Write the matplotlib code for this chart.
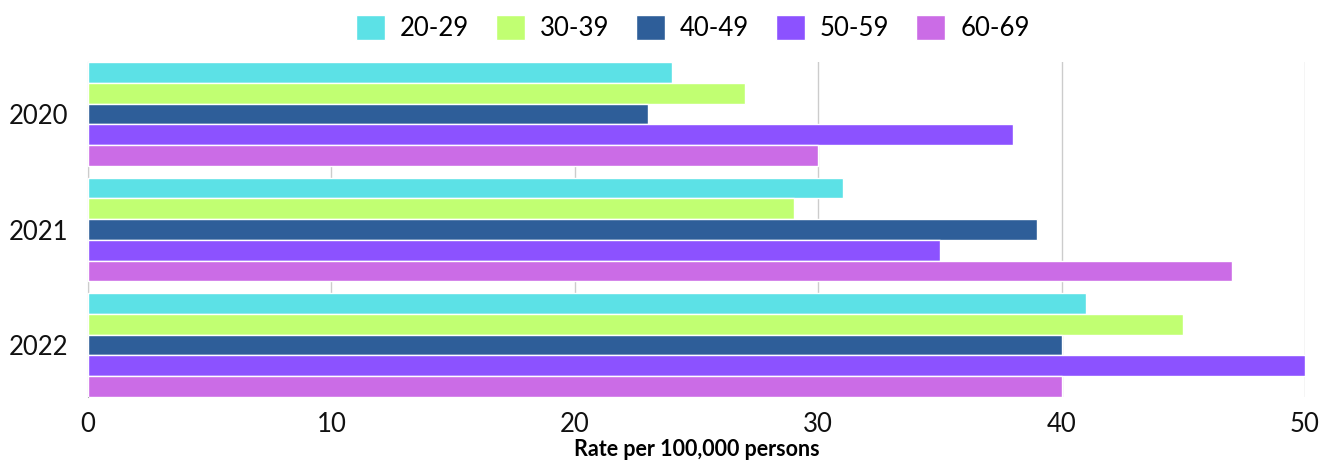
import numpy as np
import matplotlib.pyplot as plt

# data
years = ['2020', '2021', '2022']
groups = ['20-29', '30-39', '40-49', '50-59', '60-69']
rate_20_29 = [24, 31, 41]
rate_30_39 = [27, 29, 45]
rate_40_49 = [23, 39, 40]
rate_50_59 = [38, 35, 50]
rate_60_69 = [30, 47, 40]
series = [rate_20_29, rate_30_39, rate_40_49, rate_50_59, rate_60_69]
colors = ['#5CE1E6', '#C1FF72', '#2E5E99', '#8C52FF', '#CB6CE6']

plt.rcParams['font.family'] = ['Lato', 'DejaVu Sans']

fig = plt.figure(figsize=(13.23, 4.62), dpi=100)
ax = fig.add_axes([88 / 1323, 1 - 397 / 462, (1305 - 88) / 1323, (397 - 62) / 462])

y = np.arange(len(years))
h = 0.18
for i, (vals, name, c) in enumerate(zip(series, groups, colors)):
    offset = (i - 2) * h
    ax.barh(y + offset, vals, height=h, color=c, edgecolor='white',
            linewidth=1, label=name, zorder=2)

ax.set_ylim(2.45, -0.45)
ax.set_xlim(0, 50)
ax.set_xticks([0, 10, 20, 30, 40, 50])
ax.set_yticks(y)
ax.set_yticklabels(years)
ax.tick_params(axis='both', length=0, labelsize=18.5, colors='#111111')
ax.tick_params(axis='x', pad=11)
ax.tick_params(axis='y', pad=14)
ax.grid(axis='x', color='#cccccc', linewidth=1, zorder=0)
for s in ['top', 'right', 'bottom']:
    ax.spines[s].set_visible(False)
ax.spines['left'].set_color('#aaaaaa')
ax.spines['left'].set_zorder(1)

ax.set_xlabel('Rate per 100,000 persons', fontsize=15.5, fontweight='bold', labelpad=1)

fig.legend(loc='center', bbox_to_anchor=(693 / 1323, 1 - 28 / 462), ncol=5,
           frameon=False, fontsize=18.5, handlelength=1.1, handleheight=1.1,
           handletextpad=0.6, columnspacing=1.05)

fig.savefig('out.png', dpi=100)
